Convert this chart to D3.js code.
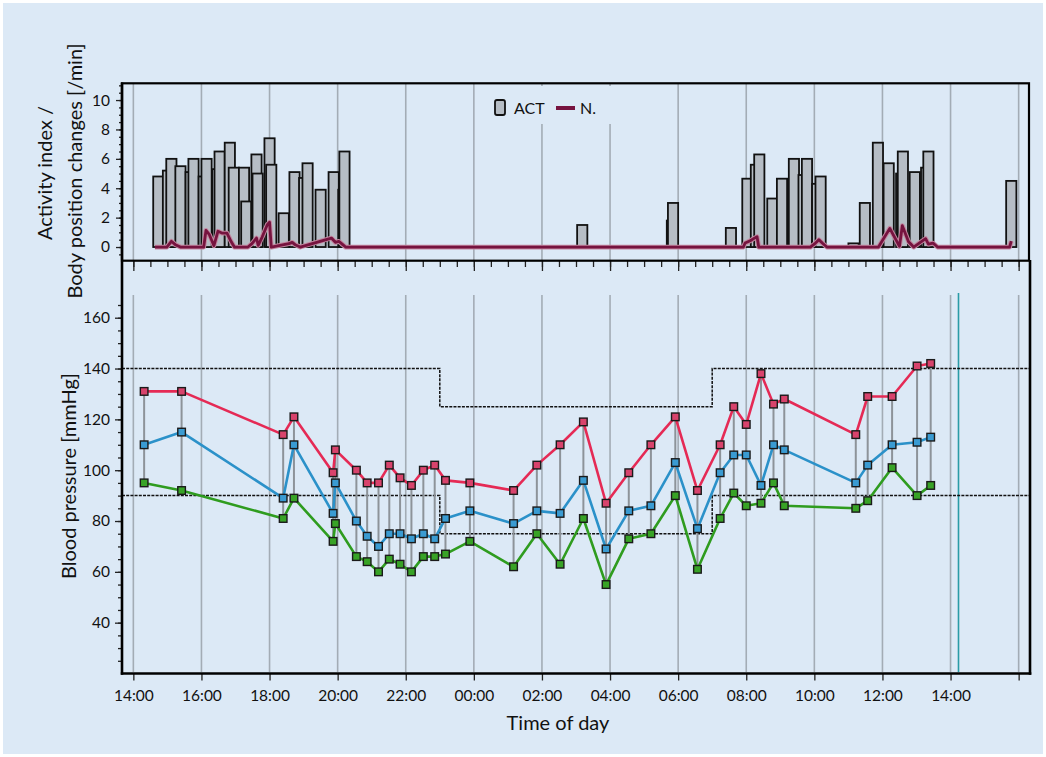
<!DOCTYPE html>
<html><head><meta charset="utf-8">
<script src="https://cdn.jsdelivr.net/npm/d3@7"></script>
<style>
body{margin:0;background:#fff}
svg{display:block}
text{font-family:Lato,"Open Sans",sans-serif;fill:#111}
</style>
</head><body>
<svg id="c" width="1046" height="757"></svg>
<script>
// ---------- DATA ----------
const ACT_TIMES = ["1 14:35","1 14:52","1 14:58","1 15:14","1 15:32","1 15:37","1 15:55","1 16:00","1 16:19","1 16:23",
  "1 16:41","1 16:48","1 17:06","1 17:10","1 17:28","1 17:30","1 17:51","1 17:54","1 18:16","1 18:35",
  "1 18:52","1 18:58","1 19:21","1 19:44","1 20:01","1 20:03","2 03:02","2 05:40","2 05:42","2 07:24",
  "2 07:53","2 08:08","2 08:14","2 08:37","2 08:54","2 09:15","2 09:32","2 09:38","2 09:56","2 10:02",
  "2 11:00","2 11:20","2 11:43","2 12:02","2 12:24","2 12:27","2 12:48","2 13:08","2 13:12","2 15:38"];
const ACT_VALUES = [4.8,5.2,6.0,5.5,5.1,6.0,4.8,6.0,5.3,6.5,
  7.1,5.4,5.4,3.1,6.3,5.0,7.4,5.6,2.3,5.1,
  4.7,5.7,3.9,5.1,3.9,6.5,1.5,1.8,3.0,1.3,
  4.65,5.6,6.3,3.3,4.65,6.0,4.9,6.0,4.3,4.8,
  0.25,3.0,7.1,5.7,5.0,6.5,5.1,5.4,6.5,4.5];

const N_TIMES = ["1 14:38","1 14:59","1 15:07","1 15:14","1 15:23","1 16:04","1 16:08","1 16:14","1 16:22","1 16:29",
  "1 16:36","1 16:45","1 16:52","1 16:58","1 17:22","1 17:29","1 17:37","1 17:40","1 17:47","1 17:56",
  "1 18:00","1 18:03","1 18:34","1 18:40","1 18:45","1 18:54","1 19:49","1 19:56","1 20:02","1 20:09",
  "1 20:14","2 07:55","2 07:58","2 08:07","2 08:13","2 08:19","2 08:22","2 09:53","2 10:02","2 10:08",
  "2 10:14","2 10:22","2 11:53","2 12:13","2 12:30","2 12:35","2 12:46","2 12:55","2 13:16","2 13:21",
  "2 13:29","2 13:37","2 15:44","2 15:47"];
const N_VALUES = [0,0,0.39,0.16,0,0,1.13,0.84,0.09,1.07,
  0.95,0.95,0.39,0,0,0.23,0.61,0.11,0.68,1.52,
  1.68,0,0.23,0.32,0.16,0,0.61,0.32,0.39,0.16,
  0,0,0.27,0.43,0.57,0.7,0,0,0.27,0.5,
  0.27,0,0,1.27,0.05,1.45,0.36,0,0.57,0.2,
  0.27,0,0,0.4];

const BP_TIMES = ["1 14:19","1 15:25","1 18:24","1 18:43","1 19:52","1 19:56","1 20:33","1 20:52","1 21:12","1 21:31",
  "1 21:50","1 22:10","1 22:31","1 22:51","1 23:10","1 23:53","2 01:10","2 01:51","2 02:32","2 03:13",
  "2 03:53","2 04:33","2 05:12","2 05:55","2 06:34","2 07:14","2 07:38","2 08:00","2 08:26","2 08:48",
  "2 09:07","2 11:13","2 11:34","2 12:17","2 13:01","2 13:25"];
const SYS = [131,131,114,121,99,108,100,95,95,102,97,94,100,102,96,95,92,102,110,119,
  87,99,110,121,92,110,125,118,138,126,128,114,129,129,141,142];
const MAP = [110,115,89,110,83,95,80,74,70,75,75,73,75,73,81,84,79,84,83,96,
  69,84,86,103,77,99,106,106,94,110,108,95,102,110,111,113];
const DIA = [95,92,81,89,72,79,66,64,60,65,63,60,66,66,67,72,62,75,63,81,
  55,73,75,90,61,81,91,86,87,95,86,85,88,101,90,94];

const LIMIT_TIMES = ["1 13:40","1 23:00","2 07:00","2 16:20"];
const SYS_LIMITS = [140,125,140,140];
const DIA_LIMITS = [90,75,90,90];

const X_TICK_LABELS = ["14:00","16:00","18:00","20:00","22:00","00:00","02:00","04:00","06:00","08:00","10:00","12:00","14:00",""];
const TOP_Y_TICKS = [0,2,4,6,8,10];
const BOT_Y_TICKS = [40,60,80,100,120,140,160];
const NOW_TIME = "2 14:14";

// ---------- HELPERS ----------
function P(s){const [d,hm]=s.split(" ");const [h,m]=hm.split(":").map(Number);return new Date(2000,0,+d,h,m);}

const BG = "#dce9f6";
const svg = d3.select("#c");
svg.append("rect").attr("x",3).attr("y",3).attr("width",1040).attr("height",751).attr("fill",BG);

const x = d3.scaleTime().domain([P("1 13:40"),P("2 16:20")]).range([122,1030]);
const yTop = d3.scaleLinear().domain([-0.93,11.14]).range([260.7,83.3]);
const yBot = d3.scaleLinear().domain([20,170]).range([673.5,292.3]);

const majors = d3.timeHour.every(2).range(P("1 14:00"),P("2 16:01"));
const minors = d3.timeMinute.every(30).range(P("1 14:00"),P("2 16:01"));

// ---------- GRID ----------
const grid = svg.append("g").attr("stroke","#a3acb5").attr("stroke-width",1.6);
majors.forEach(d=>{
  grid.append("line").attr("x1",x(d)).attr("x2",x(d)).attr("y1",84).attr("y2",260);
  grid.append("line").attr("x1",x(d)).attr("x2",x(d)).attr("y1",295).attr("y2",672);
});
svg.append("line").attr("x1",x(P(NOW_TIME))).attr("x2",x(P(NOW_TIME))).attr("y1",293).attr("y2",672)
  .attr("stroke","#2a9ba6").attr("stroke-width",1.6);

// legend background covering grid
svg.append("rect").attr("x",483).attr("y",86).attr("width",136).attr("height",38).attr("fill",BG);

// ---------- TOP PANEL: ACT bars ----------
const actData = ACT_TIMES.map((t,i)=>({t:P(t),v:ACT_VALUES[i]}));
svg.append("g").selectAll("rect").data(actData).join("rect")
  .attr("x",d=>x(d.t))
  .attr("width",d=>x(d3.timeMinute.offset(d.t,18))-x(d.t))
  .attr("y",d=>yTop(d.v))
  .attr("height",d=>yTop(0)-yTop(d.v))
  .attr("fill","#b6bdc5").attr("stroke","#111").attr("stroke-width",1.8);

// N. line
const nData = N_TIMES.map((t,i)=>({t:P(t),v:N_VALUES[i]}));
svg.append("path").datum(nData)
  .attr("d",d3.line().x(d=>x(d.t)).y(d=>yTop(d.v)))
  .attr("fill","none").attr("stroke","#c2869f").attr("stroke-width",4.8).attr("stroke-linejoin","round");
svg.append("path").datum(nData)
  .attr("d",d3.line().x(d=>x(d.t)).y(d=>yTop(d.v)))
  .attr("fill","none").attr("stroke","#76133f").attr("stroke-width",2.8).attr("stroke-linejoin","round");

// legend
svg.append("rect").attr("x",495).attr("y",100).attr("width",10).attr("height",15).attr("rx",2)
  .attr("fill","#b6bdc5").attr("stroke","#111").attr("stroke-width",1.8);
svg.append("text").attr("x",514).attr("y",114).attr("font-size",16).text("ACT");
svg.append("line").attr("x1",556).attr("x2",575).attr("y1",108).attr("y2",108)
  .attr("stroke","#76133f").attr("stroke-width",4);
svg.append("text").attr("x",580).attr("y",114).attr("font-size",16).text("N.");

// ---------- BOTTOM PANEL ----------
const limLine = d3.line().curve(d3.curveStepAfter).x(d=>x(d.t)).y(d=>yBot(d.v));
[SYS_LIMITS,DIA_LIMITS].forEach(arr=>{
  svg.append("path").datum(LIMIT_TIMES.map((t,i)=>({t:P(t),v:arr[i]})))
    .attr("d",limLine).attr("fill","none").attr("stroke","#111").attr("stroke-width",1.5)
    .attr("stroke-dasharray","3,1.2");
});

const bp = BP_TIMES.map((t,i)=>({t:P(t),s:SYS[i],m:MAP[i],d:DIA[i]}));
svg.append("g").selectAll("line").data(bp).join("line")
  .attr("x1",d=>x(d.t)).attr("x2",d=>x(d.t))
  .attr("y1",d=>yBot(d.s)).attr("y2",d=>yBot(d.d))
  .attr("stroke","#8d9399").attr("stroke-width",2);

const series = [
  {k:"s",line:"#e52a55",fill:"#d8436c"},
  {k:"m",line:"#2b91c9",fill:"#3a9bd2"},
  {k:"d",line:"#2f9c1f",fill:"#38a326"}
];
series.forEach(s=>{
  svg.append("path").datum(bp)
    .attr("d",d3.line().x(d=>x(d.t)).y(d=>yBot(d[s.k])))
    .attr("fill","none").attr("stroke",s.line).attr("stroke-width",2.6).attr("stroke-linejoin","round");
});
series.forEach(s=>{
  svg.append("g").selectAll("rect").data(bp).join("rect")
    .attr("x",d=>x(d.t)-3.8).attr("y",d=>yBot(d[s.k])-3.8)
    .attr("width",7.6).attr("height",7.6)
    .attr("fill",s.fill).attr("stroke","#1a1a1a").attr("stroke-width",1.4);
});

// ---------- AXES ----------
function styleAxis(g,fs){
  g.select(".domain").remove();
  g.selectAll(".tick line").attr("stroke","#222").attr("stroke-width",1.3);
  g.selectAll(".tick text").attr("font-size",fs).attr("font-family","Lato,'Open Sans',sans-serif").attr("fill","#111");
}
// top panel y
const gTopMinor = svg.append("g").attr("transform","translate(122,0)")
  .call(d3.axisLeft(yTop).tickValues(d3.range(-0.5,11.01,0.5)).tickSize(3).tickFormat(""));
styleAxis(gTopMinor,15);
const gTopY = svg.append("g").attr("transform","translate(122,0)")
  .call(d3.axisLeft(yTop).tickValues(TOP_Y_TICKS).tickSize(6).tickPadding(6));
styleAxis(gTopY,15.5);
// bottom panel y
const gBotMinor = svg.append("g").attr("transform","translate(122,0)")
  .call(d3.axisLeft(yBot).tickValues(d3.range(25,166,5)).tickSize(4).tickFormat(""));
styleAxis(gBotMinor,15);
const gBotY = svg.append("g").attr("transform","translate(122,0)")
  .call(d3.axisLeft(yBot).tickValues(BOT_Y_TICKS).tickSize(7).tickPadding(5));
styleAxis(gBotY,15.5);
// top panel x ticks
const gTopXMinor = svg.append("g").attr("transform","translate(0,261)")
  .call(d3.axisBottom(x).tickValues(minors).tickSize(6).tickFormat(""));
styleAxis(gTopXMinor,15);
const gTopX = svg.append("g").attr("transform","translate(0,261)")
  .call(d3.axisBottom(x).tickValues(majors).tickSize(10).tickFormat(""));
styleAxis(gTopX,15);
// bottom x
const gBotX = svg.append("g").attr("transform","translate(0,673.5)")
  .call(d3.axisBottom(x).tickValues(majors).tickSize(7).tickPadding(9).tickFormat((d,i)=>X_TICK_LABELS[i]));
styleAxis(gBotX,15.5);

// frame
const fr = svg.append("g").attr("stroke","#000").attr("fill","none");
fr.append("rect").attr("x",122).attr("y",83.3).attr("width",907).attr("height",177.4).attr("stroke-width",2.2);
fr.append("line").attr("x1",122).attr("x2",122).attr("y1",82.5).attr("y2",674.8).attr("stroke-width",2.6);
fr.append("line").attr("x1",120.8).attr("x2",1031.3).attr("y1",673.5).attr("y2",673.5).attr("stroke-width",2.6);
fr.append("line").attr("x1",1030).attr("x2",1030).attr("y1",260).attr("y2",674.8).attr("stroke-width",2.6);

// titles
svg.append("text").attr("transform","translate(45,173) rotate(-90)").attr("text-anchor","middle")
  .attr("dy","0.35em").attr("font-size",20).text("Activity index /");
svg.append("text").attr("transform","translate(75,171) rotate(-90)").attr("text-anchor","middle")
  .attr("dy","0.35em").attr("font-size",20).text("Body position changes [/min]");
svg.append("text").attr("transform","translate(69,476) rotate(-90)").attr("text-anchor","middle")
  .attr("dy","0.35em").attr("font-size",20).text("Blood pressure [mmHg]");
svg.append("text").attr("x",558).attr("y",730).attr("text-anchor","middle").attr("font-size",20).text("Time of day");
</script>
</body></html>
